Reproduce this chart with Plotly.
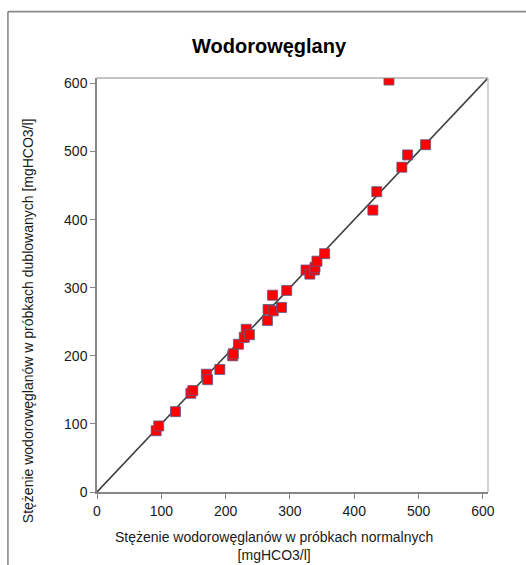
import plotly.graph_objects as go

# Data
normal = [92, 96, 122, 146, 149, 170, 172, 191, 211, 212, 220, 229, 232, 237,
          265, 266, 273, 274, 287, 295, 325, 331, 338, 339, 342, 354,
          429, 435, 474, 483, 511, 454]
duplicate = [90, 97, 118, 145, 149, 173, 165, 180, 200, 203, 217, 227, 239, 231,
             252, 268, 289, 266, 271, 296, 326, 320, 326, 330, 339, 350,
             414, 441, 477, 495, 510, 605]
line_xy = [0, 608]
tick_vals = [0, 100, 200, 300, 400, 500, 600]
tick_text = ["0", "100", "200", "300", "400", "500", "600"]

title_text = "Wodorowęglany"
x_title = "Stężenie wodorowęglanów w próbkach normalnych<br>[mgHCO3/l]"
y_title = "Stężenie wodorowęglanów w próbkach dublowanych [mgHCO3/l]"

W, H = 526, 565
L, R, T, B = 97, 487.7, 77.5, 492
pw, ph = R - L, B - T

def px2x(px):
    return (px - L) / pw

def py2y(py):
    return (B - py) / ph

fig = go.Figure()
fig.add_trace(go.Scatter(x=line_xy, y=line_xy, mode="lines",
                         line=dict(color="#404040", width=1.6),
                         hoverinfo="skip", showlegend=False))
fig.add_trace(go.Scatter(x=normal, y=duplicate, mode="markers",
                         marker=dict(symbol="square", size=10, color="#ff0000",
                                     line=dict(color="#5a5a88", width=0.8)),
                         showlegend=False))

axis_common = dict(range=[0, 608], tickvals=tick_vals, ticktext=tick_text,
                   showgrid=False, zeroline=False, showline=True,
                   linecolor="#868686", linewidth=1.5, ticks="outside",
                   ticklen=5, tickcolor="#868686", tickwidth=1.2,
                   tickfont=dict(family="Liberation Sans, Arial", size=14, color="#1a1a1a"),
                   fixedrange=True)
fig.update_xaxes(**axis_common)
fig.update_yaxes(**axis_common)

shapes = [
    # top & right plot frame
    dict(type="line", xref="paper", yref="paper", x0=0, x1=1, y0=1, y1=1,
         line=dict(color="#8a8a8a", width=1.2)),
    dict(type="line", xref="paper", yref="paper", x0=1, x1=1, y0=0, y1=1,
         line=dict(color="#c8c8c8", width=1.6)),
    # outer chart frame (left & top visible)
    dict(type="line", xref="paper", yref="paper", x0=px2x(8), x1=px2x(8),
         y0=py2y(11), y1=py2y(600), line=dict(color="#8a8a8a", width=1.6)),
    dict(type="line", xref="paper", yref="paper", x0=px2x(8), x1=px2x(600),
         y0=py2y(11), y1=py2y(11), line=dict(color="#8a8a8a", width=1.6)),
]

annotations = [
    dict(text="<b>" + title_text + "</b>", xref="paper", yref="paper",
         x=px2x(269), y=py2y(45), showarrow=False, xanchor="center", yanchor="middle",
         font=dict(family="Liberation Sans, Arial", size=20, color="#000000")),
    dict(text=x_title, xref="paper", yref="paper",
         x=px2x(274), y=py2y(527), showarrow=False, xanchor="center", yanchor="top",
         font=dict(family="Liberation Sans, Arial", size=14, color="#1a1a1a")),
    dict(text=y_title, xref="paper", yref="paper", textangle=-90,
         x=px2x(28), y=py2y(320), showarrow=False, xanchor="center", yanchor="middle",
         font=dict(family="Liberation Sans, Arial", size=14, color="#1a1a1a")),
]

fig.update_layout(width=W, height=H, autosize=False,
                  margin=dict(l=L, r=W - R, t=T, b=H - B, pad=0),
                  paper_bgcolor="white", plot_bgcolor="white",
                  shapes=shapes, annotations=annotations,
                  showlegend=False)

fig.write_html("out.html", config={"displayModeBar": False},
               post_script="document.body.style.margin='0';document.body.style.overflow='hidden';")
